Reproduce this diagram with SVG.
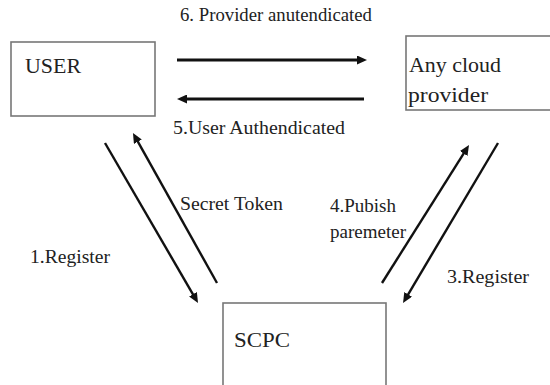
<svg xmlns="http://www.w3.org/2000/svg" width="550" height="385" viewBox="0 0 550 385">
<defs>
<style>
.box{fill:#fff;stroke:#777;stroke-width:1.6}
text{fill:#222;font-family:'Liberation Serif','Times New Roman',Tinos,'Noto Serif','DejaVu Serif',serif}
.big{font-size:22px}
.lab{font-size:18px}
.c{stroke:#111;fill:none}
.h{stroke-width:3}
.d{stroke-width:2.4}
</style>
<marker id="ah" markerUnits="userSpaceOnUse" markerWidth="11" markerHeight="9" refX="4" refY="4.5" orient="auto">
<path d="M0,0 L10,4.5 L0,9 z" fill="#111"/>
</marker>
</defs>
<rect width="550" height="385" fill="#fff"/>
<g id="user">
<rect class="box" x="11" y="42" width="144" height="74"/>
<text class="big" x="25" y="73" textLength="56" lengthAdjust="spacingAndGlyphs">USER</text>
</g>
<g id="cloud">
<rect class="box" x="406" y="36" width="160" height="74"/>
<text class="big" x="409" y="72" textLength="92" lengthAdjust="spacingAndGlyphs">Any cloud</text>
<text class="big" x="408" y="102" textLength="80" lengthAdjust="spacingAndGlyphs">provider</text>
</g>
<g id="scpc">
<rect class="box" x="223" y="303" width="163" height="90"/>
<text class="big" x="234" y="347" textLength="56" lengthAdjust="spacingAndGlyphs">SCPC</text>
</g>
<g id="connectors">
<line class="c h" x1="177" y1="60" x2="361" y2="60" marker-end="url(#ah)"/>
<line class="c h" x1="364" y1="99" x2="183" y2="99" marker-end="url(#ah)"/>
<line class="c d" x1="105" y1="143" x2="195" y2="297.8" marker-end="url(#ah)"/>
<line class="c d" x1="217" y1="283" x2="135.9" y2="138.2" marker-end="url(#ah)"/>
<line class="c d" x1="382" y1="283" x2="465.8" y2="150.1" marker-end="url(#ah)"/>
<line class="c d" x1="498" y1="143" x2="406.1" y2="297.8" marker-end="url(#ah)"/>
</g>
<g id="labels">
<text class="lab" x="180" y="21" textLength="192" lengthAdjust="spacingAndGlyphs">6. Provider anutendicated</text>
<text class="lab" x="173" y="134" textLength="172" lengthAdjust="spacingAndGlyphs">5.User Authendicated</text>
<text class="lab" x="180" y="210" textLength="103" lengthAdjust="spacingAndGlyphs">Secret Token</text>
<text class="lab" x="330" y="212" textLength="66" lengthAdjust="spacingAndGlyphs">4.Pubish</text>
<text class="lab" x="330" y="238" textLength="76" lengthAdjust="spacingAndGlyphs">paremeter</text>
<text class="lab" x="30" y="263" textLength="80" lengthAdjust="spacingAndGlyphs">1.Register</text>
<text class="lab" x="447" y="283" textLength="82" lengthAdjust="spacingAndGlyphs">3.Register</text>
</g>
</svg>
